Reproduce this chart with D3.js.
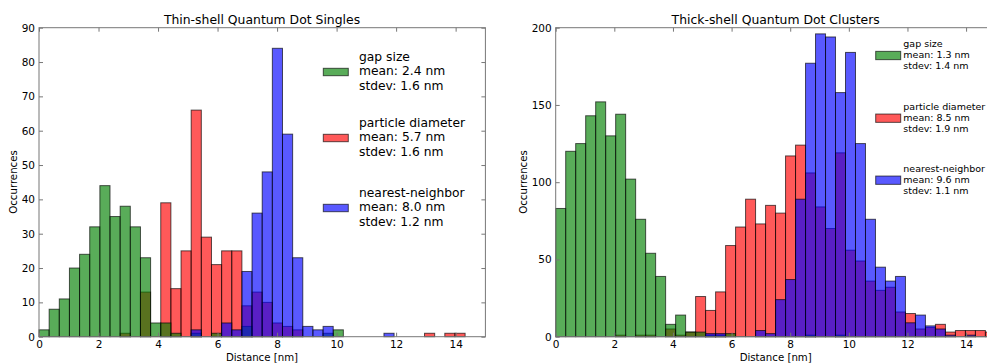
<!DOCTYPE html>
<html>
<head>
<meta charset="utf-8">
<script src="https://cdn.jsdelivr.net/npm/d3@7"></script>
<style>
body { margin: 0; background: #fff; }
text { font-family: "DejaVu Sans", sans-serif; fill: #000; }
</style>
</head>
<body>
<script>
// 44 equal bins between 0 and 15 nm, counts
var BIN_COUNT = 44, X_MAX = 15;
var xTicks = [0, 2, 4, 6, 8, 10, 12, 14];

var thinGap      = [2,8,11,20,24,32,44,35,38,32,23,4,4,1,0,1,0,1,0,0,3,0,0,0,0,0,0,0,1,2,0,0,0,0,0,0,0,0,0,0,0,0,0,0];
var thinDiameter = [0,0,0,0,0,0,0,0,1,0,13,0,39,14,25,66,29,21,25,25,9,13,10,4,3,2,0,0,0,0,0,0,0,0,0,0,0,0,1,0,1,1,0,0];
var thinNeighbor = [0,0,0,0,0,0,0,0,0,0,0,0,0,0,0,2,0,0,4,2,19,36,48,84,59,23,3,2,3,0,0,0,0,0,1,0,0,0,0,0,0,0,0,0];
var thinYTicks = [0, 10, 20, 30, 40, 50, 60, 70, 80, 90];
var thinLegend = [["gap size", "mean: 2.4 nm", "stdev: 1.6 nm"],
                  ["particle diameter", "mean: 5.7 nm", "stdev: 1.6 nm"],
                  ["nearest-neighbor", "mean: 8.0 nm", "stdev: 1.2 nm"]];

var thickGap      = [83,120,125,143,152,130,144,102,76,54,39,8,14,3,3,1,1,2,0,0,0,0,0,0,0,1,0,0,1,0,0,0,0,0,0,0,0,0,0,0,0,0,0,0];
var thickDiameter = [0,0,0,0,0,0,1,0,1,1,0,5,1,3,26,17,29,59,71,89,73,85,80,117,124,106,84,70,119,56,49,36,30,32,16,15,5,6,8,3,4,4,4,3];
var thickNeighbor = [0,0,0,0,0,0,0,0,0,0,0,0,0,0,0,2,2,0,0,0,4,2,24,37,89,177,196,194,158,184,125,76,45,36,39,9,14,7,5,1,0,1,0,0];
var thickYTicks = [0, 50, 100, 150, 200];
var thickLegend = [["gap size", "mean: 1.3 nm", "stdev: 1.4 nm"],
                   ["particle diameter", "mean: 8.5 nm", "stdev: 1.9 nm"],
                   ["nearest-neighbor", "mean: 9.6 nm", "stdev: 1.1 nm"]];

var GREEN = "#008000", RED = "#ff0000", BLUE = "#0000ff";

var svg = d3.select("body").append("svg")
	.attr("width", 987)
	.attr("height", 364);

var binEdges = d3.range(BIN_COUNT + 1).map(function(i) { return i * X_MAX / BIN_COUNT; });

function drawChart(opt) {
	var x = d3.scaleLinear().domain([0, X_MAX]).range([opt.left, opt.right]);
	var y = d3.scaleLinear().domain([0, opt.yMax]).range([opt.bottom, opt.top]);

	var g = svg.append("g");

	// red goes down first, then green, then blue (matches the overlap colours)
	var layers = [
		{ counts: opt.diameter, color: RED },
		{ counts: opt.gap, color: GREEN },
		{ counts: opt.neighbor, color: BLUE }
	];

	layers.forEach(function(layer) {
		var bins = layer.counts.map(function(c, i) {
			return { x0: binEdges[i], x1: binEdges[i + 1], count: c };
		}).filter(function(d) { return d.count > 0; });

		g.append("g").selectAll("rect")
			.data(bins)
			.enter().append("rect")
			.attr("x", function(d) { return x(d.x0); })
			.attr("width", function(d) { return x(d.x1) - x(d.x0); })
			.attr("y", function(d) { return y(d.count); })
			.attr("height", function(d) { return y(0) - y(d.count); })
			.attr("fill", layer.color)
			.attr("fill-opacity", 0.65)
			.attr("stroke", "#000")
			.attr("stroke-opacity", 0.65)
			.attr("stroke-width", 1);
	});

	// frame with inward ticks on all four sides
	var axisColor = "#777";
	g.append("rect")
		.attr("x", opt.left).attr("y", opt.top)
		.attr("width", opt.right - opt.left).attr("height", opt.bottom - opt.top)
		.attr("fill", "none").attr("stroke", axisColor).attr("stroke-width", 1);

	var bottomAxis = d3.axisBottom(x).tickValues(xTicks).tickSize(-4).tickPadding(4).tickFormat(d3.format("d"));
	var topAxis = d3.axisTop(x).tickValues(xTicks).tickSize(-4).tickFormat("");
	var leftAxis = d3.axisLeft(y).tickValues(opt.yTicks).tickSize(-4).tickPadding(4);
	var rightAxis = d3.axisRight(y).tickValues(opt.yTicks).tickSize(-4).tickFormat("");

	[[bottomAxis, "translate(0," + opt.bottom + ")"],
	 [topAxis, "translate(0," + opt.top + ")"],
	 [leftAxis, "translate(" + opt.left + ",0)"],
	 [rightAxis, "translate(" + opt.right + ",0)"]].forEach(function(a) {
		var ax = g.append("g").attr("transform", a[1]).call(a[0]);
		ax.select(".domain").remove();
		ax.selectAll("line").attr("stroke", axisColor);
		ax.selectAll("text").attr("font-family", "DejaVu Sans").attr("font-size", "10.5px").attr("fill", "#000");
	});

	g.append("text")
		.attr("x", opt.titleX)
		.attr("y", 24)
		.attr("text-anchor", "middle")
		.attr("font-size", "12.4px")
		.text(opt.title);

	g.append("text")
		.attr("x", opt.titleX)
		.attr("y", 361)
		.attr("text-anchor", "middle")
		.attr("font-size", "10.2px")
		.text("Distance [nm]");

	g.append("text")
		.attr("transform", "translate(" + opt.yLabelX + ",182) rotate(-90)")
		.attr("text-anchor", "middle")
		.attr("font-size", "10.2px")
		.text("Occurrences");

	// legend: patch next to the middle line of each three-line label
	var colors = [GREEN, RED, BLUE];
	opt.legend.forEach(function(lines, k) {
		var base = opt.legendBase[k];
		g.append("rect")
			.attr("x", opt.patchX).attr("width", 25)
			.attr("y", base - opt.patchLift - opt.patchH / 2).attr("height", opt.patchH)
			.attr("fill", colors[k]).attr("fill-opacity", 0.65)
			.attr("stroke", "#000").attr("stroke-opacity", 0.65);
		lines.forEach(function(line, j) {
			g.append("text")
				.attr("x", opt.textX)
				.attr("y", base + (j - 1) * opt.lineGap)
				.attr("font-size", opt.legendFont)
				.text(line);
		});
	});
}

drawChart({
	left: 39, right: 485.4, top: 27.7, bottom: 336.7, yMax: 90,
	yTicks: thinYTicks, gap: thinGap, diameter: thinDiameter, neighbor: thinNeighbor,
	title: "Thin-shell Quantum Dot Singles", titleX: 262, yLabelX: 17.3,
	legend: thinLegend, legendBase: [75.3, 141.3, 211.3], lineGap: 14.2, legendFont: "12.3px",
	patchX: 323.3, patchLift: 3.3, patchH: 7.4, textX: 359
});

drawChart({
	left: 555.7, right: 995.4, top: 27.7, bottom: 336.7, yMax: 200,
	yTicks: thickYTicks, gap: thickGap, diameter: thickDiameter, neighbor: thickNeighbor,
	title: "Thick-shell Quantum Dot Clusters", titleX: 775.7, yLabelX: 527.3,
	legend: thickLegend, legendBase: [58, 120.7, 182.7], lineGap: 11, legendFont: "9.5px",
	patchX: 875.7, patchLift: 2.5, patchH: 8.3, textX: 903.3
});
</script>
</body>
</html>
